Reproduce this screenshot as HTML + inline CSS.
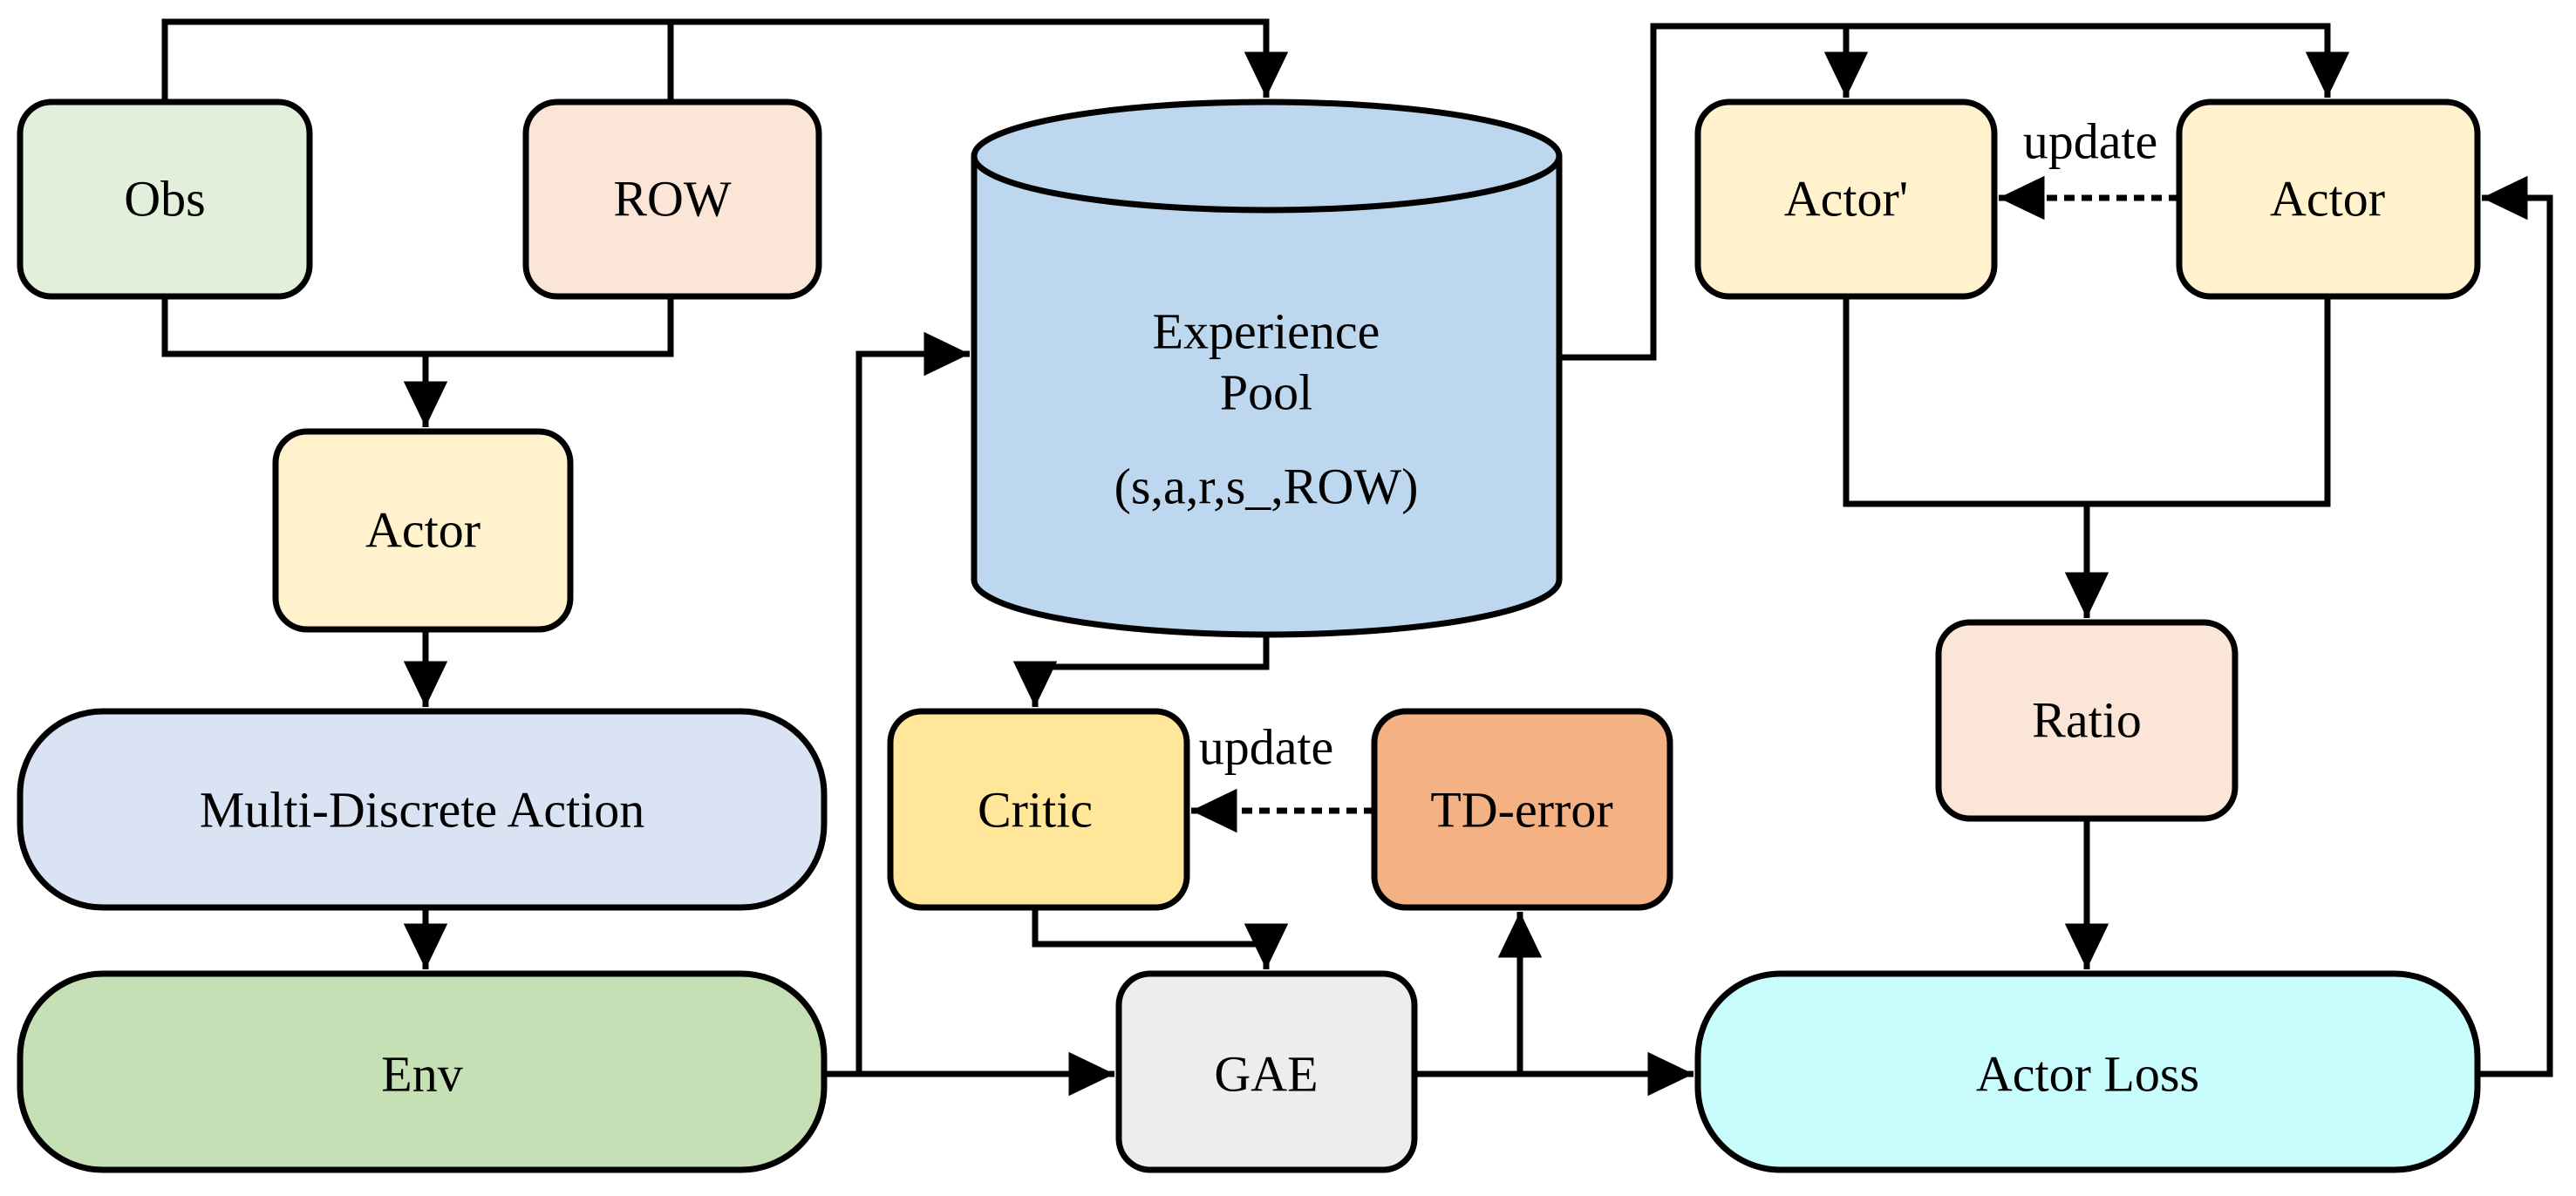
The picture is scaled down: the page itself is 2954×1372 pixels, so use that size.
<!DOCTYPE html>
<html><head><meta charset="utf-8"><style>
html,body{margin:0;padding:0;background:#fff;width:2954px;height:1372px;overflow:hidden}
svg text{font-family:"Liberation Serif","Times New Roman",Times,serif;font-size:58px;text-anchor:middle;dominant-baseline:central;fill:#000}
</style></head><body>
<svg width="2954" height="1372" viewBox="0 0 2954 1372" xmlns="http://www.w3.org/2000/svg">
<defs>
<marker id="a" markerWidth="8" markerHeight="8" refX="7.5" refY="4" orient="auto" markerUnits="strokeWidth"><path d="M0,0.4 L7.5,4 L0,7.6 Z" fill="#000"/></marker>
</defs>
<g fill="none" stroke="#000" stroke-width="7">
<path d="M189,117 V25 H1452 V112" marker-end="url(#a)"/>
<path d="M769,25 V117"/>
<path d="M189,340 V406 H769 V340"/>
<path d="M488,406 V490" marker-end="url(#a)"/>
<path d="M488,722 V811" marker-end="url(#a)"/>
<path d="M488,1041 V1112" marker-end="url(#a)"/>
<path d="M945,1232 H1278" marker-end="url(#a)"/>
<path d="M985,1232 V406 H1112" marker-end="url(#a)"/>
<path d="M1452,728 V765 H1187 V811" marker-end="url(#a)"/>
<path d="M1187,1041 V1083 H1452 V1112" marker-end="url(#a)"/>
<path d="M1622,1232 H1942" marker-end="url(#a)"/>
<path d="M1743,1232 V1046" marker-end="url(#a)"/>
<path d="M2841,1232 H2924 V227 H2846" marker-end="url(#a)"/>
<path d="M1788,410 H1896 V30 H2669 V112" marker-end="url(#a)"/>
<path d="M2117,30 V112" marker-end="url(#a)"/>
<path d="M2117,340 V578 H2669 V340"/>
<path d="M2393,578 V709" marker-end="url(#a)"/>
<path d="M2393,939 V1112" marker-end="url(#a)"/>
<path d="M1576,930 H1366" stroke-dasharray="12,8" marker-end="url(#a)"/>
<path d="M2499,227 H2292" stroke-dasharray="12,8" marker-end="url(#a)"/>
</g>
<g stroke="#000" stroke-width="7">
<rect x="23" y="117" width="332" height="223" rx="36" fill="#e2efda"/>
<rect x="603" y="117" width="336" height="223" rx="36" fill="#fbe5d6"/>
<rect x="316" y="495" width="338" height="227" rx="36" fill="#fff2cc"/>
<rect x="23" y="816" width="922" height="225" rx="95" fill="#dae3f3"/>
<rect x="23" y="1117" width="922" height="225" rx="95" fill="#c5e0b4"/>
<rect x="1021" y="816" width="340" height="225" rx="36" fill="#ffe699"/>
<rect x="1576" y="816" width="339" height="225" rx="36" fill="#f4b183"/>
<rect x="1283" y="1117" width="339" height="225" rx="36" fill="#ededed"/>
<rect x="1947" y="1117" width="894" height="225" rx="95" fill="#c9fcfd"/>
<rect x="1947" y="117" width="340" height="223" rx="36" fill="#fff2cc"/>
<rect x="2499" y="117" width="342" height="223" rx="36" fill="#fff2cc"/>
<rect x="2223" y="714" width="340" height="225" rx="36" fill="#fbe5d6"/>
<path d="M1117,179 V665 A335.5,63 0 0 0 1788,665 V179" fill="#bdd7ee"/>
<ellipse cx="1452.5" cy="179" rx="335.5" ry="62" fill="#bdd7ee"/>
</g>
<g font-family="Liberation Serif, Times New Roman, serif">
<text x="189" y="228">Obs</text>
<text x="771" y="228">ROW</text>
<text x="485" y="608">Actor</text>
<text x="484" y="929">Multi-Discrete Action</text>
<text x="484" y="1232">Env</text>
<text x="1452" y="380">Experience</text>
<text x="1452" y="450">Pool</text>
<text x="1452" y="558">(s,a,r,s_,ROW)</text>
<text x="1187" y="929">Critic</text>
<text x="1745" y="929">TD-error</text>
<text x="1452" y="857">update</text>
<text x="1452" y="1232">GAE</text>
<text x="2394" y="1232">Actor Loss</text>
<text x="2117" y="228">Actor'</text>
<text x="2669" y="228">Actor</text>
<text x="2397" y="162">update</text>
<text x="2393" y="826">Ratio</text>
</g>
</svg>
</body></html>
